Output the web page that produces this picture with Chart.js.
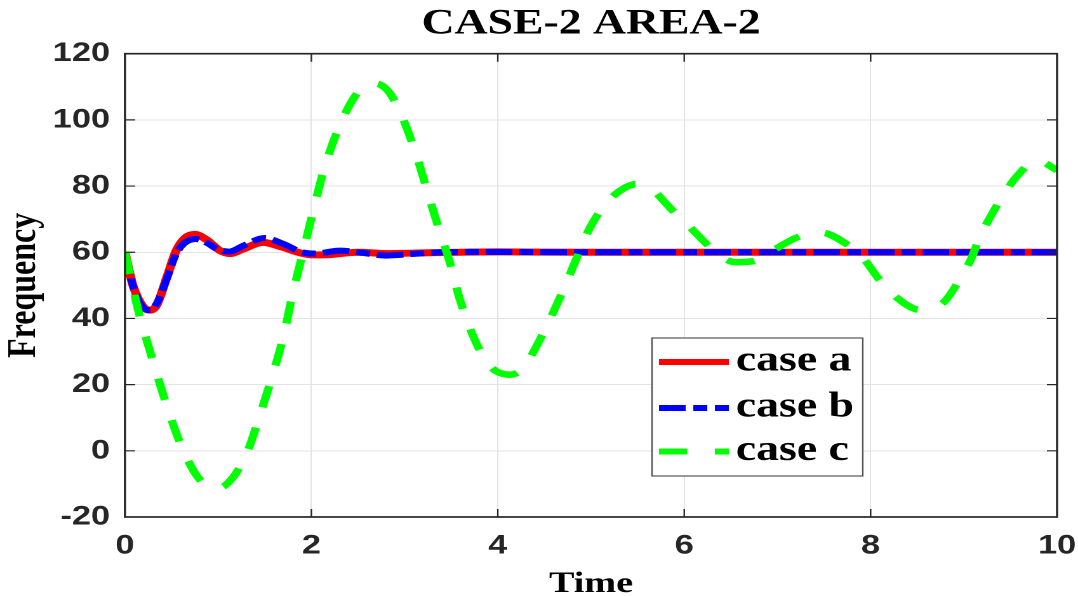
<!DOCTYPE html>
<html>
<head>
<meta charset="utf-8">
<script src="https://cdn.jsdelivr.net/npm/chart.js@4.4.1/dist/chart.umd.min.js"></script>
<style>
  html, body { margin: 0; padding: 0; background: #ffffff; overflow: hidden; }
  #wrap { width: 849px; height: 596px; transform: scaleX(1.26973); transform-origin: 0 0; }
</style>
</head>
<body>
<div id="wrap"><canvas id="c" width="849" height="596"></canvas></div>
<script>
// ---- data ----
const titleText = 'CASE-2 AREA-2';
const xTitle = 'Time';
const yTitle = 'Frequency';
const seriesLabels = ['case a', 'case b', 'case c'];

const timeA = [0, 0.09, 0.2, 0.27, 0.34, 0.45, 0.55, 0.64, 0.75, 0.88, 1.02, 1.13, 1.27, 1.48, 1.66, 1.88, 2.02, 2.2, 2.5, 2.8, 3.2, 3.6, 4, 5, 6, 7, 8, 9, 10];
const caseA = [60, 49.6, 43.4, 42.5, 44, 52.5, 60.5, 64.2, 65.4, 63.7, 60.5, 59.6, 61, 63, 61.8, 59.8, 59.2, 59.3, 60, 59.6, 59.8, 60, 60.1, 60, 60, 60, 60, 60, 60];

const timeB = [0, 0.09, 0.2, 0.27, 0.34, 0.45, 0.55, 0.64, 0.76, 0.88, 1.0, 1.12, 1.27, 1.5, 1.7, 1.9, 2.05, 2.3, 2.55, 2.8, 3.1, 3.4, 3.8, 5, 6, 7, 8, 9, 10];
const caseB = [60, 49.5, 43.1, 42.5, 44.5, 52, 59.5, 62.8, 64, 62.8, 60.8, 60.2, 62, 64.3, 62.5, 60, 59.6, 60.5, 59.8, 59.0, 59.5, 60, 60.1, 60, 60, 60, 60, 60, 60];

const timeC = [0, 0.16, 0.27, 0.41, 0.59, 0.77, 0.91, 1.0, 1.16, 1.31, 1.45, 1.59, 1.70, 1.80, 1.91, 2.02, 2.13, 2.27, 2.42, 2.55, 2.68, 2.83, 2.98, 3.13, 3.27, 3.38, 3.49, 3.59, 3.77, 3.92, 4.13, 4.27, 4.45, 4.67, 4.85, 4.99, 5.17, 5.35, 5.49, 5.63, 5.88, 6.03, 6.24, 6.38, 6.55, 6.74, 6.92, 7.21, 7.46, 7.74, 7.92, 8.10, 8.28, 8.53, 8.78, 8.96, 9.07, 9.17, 9.28, 9.43, 9.57, 9.78, 10.0];
const caseC = [60, 40.5, 30, 17, 2.5, -7.5, -11, -11.3, -8, -0.5, 11, 23.5, 34.5, 47.5, 60, 72.5, 84.5, 96, 105, 109.8, 111, 108.5, 100.5, 89, 76, 66, 56.5, 46, 32.5, 25.5, 23, 25, 33.5, 46.5, 58.5, 67.5, 75, 79.3, 80.6, 79.5, 72.5, 68.5, 62.5, 59, 57, 57.3, 60, 64.5, 66, 62.5, 58.2, 51.5, 46.3, 42.6, 44.8, 52, 57.5, 64.5, 70.5, 77.5, 83, 87.8, 84.8];

const xTicks = [0, 2, 4, 6, 8, 10];
const yTicks = [-20, 0, 20, 40, 60, 80, 100, 120];

// ---- build ----
const pts = (ts, vs) => ts.map((t, i) => ({ x: t, y: vs[i] }));

const framePlugin = {
  id: 'frameTicks',
  afterDatasetsDraw(chart) {
    const { ctx, chartArea: a, scales: { x, y } } = chart;
    ctx.save();
    ctx.strokeStyle = '#262626';
    ctx.lineWidth = 1.2;
    const L = 8;
    ctx.beginPath();
    xTicks.forEach(v => {
      if (v === xTicks[0] || v === xTicks[xTicks.length - 1]) return;
      const px = x.getPixelForValue(v);
      ctx.moveTo(px, a.bottom); ctx.lineTo(px, a.bottom - L);
      ctx.moveTo(px, a.top); ctx.lineTo(px, a.top + L);
    });
    yTicks.forEach(v => {
      if (v === yTicks[0] || v === yTicks[yTicks.length - 1]) return;
      const py = y.getPixelForValue(v);
      ctx.moveTo(a.left, py); ctx.lineTo(a.left + L, py);
      ctx.moveTo(a.right, py); ctx.lineTo(a.right - L, py);
    });
    ctx.stroke();
    ctx.lineWidth = 1.7;
    ctx.strokeRect(a.left, a.top, a.right - a.left, a.bottom - a.top);
    ctx.restore();
  }
};

const legendPlugin = {
  id: 'boxLegend',
  afterDraw(chart) {
    const { ctx } = chart;
    const bx = 513.5, by = 338, bw = 166, bh = 138;
    ctx.save();
    ctx.fillStyle = '#ffffff';
    ctx.fillRect(bx, by, bw, bh);
    ctx.strokeStyle = '#555555';
    ctx.lineWidth = 1.2;
    ctx.strokeRect(bx, by, bw, bh);
    const rows = [362, 408, 451.5];
    chart.data.datasets.forEach((ds, i) => {
      const yy = rows[i];
      ctx.beginPath();
      ctx.strokeStyle = ds.borderColor;
      ctx.lineWidth = 6;
      ctx.lineCap = 'butt';
      ctx.setLineDash(ds.legendDash || []);
      ctx.moveTo(bx + 5.5, yy);
      ctx.lineTo(bx + 60.5, yy);
      ctx.stroke();
      ctx.setLineDash([]);
      ctx.fillStyle = '#000000';
      ctx.font = 'bold 36px "Liberation Serif", "Times New Roman", serif';
      ctx.textBaseline = 'middle';
      ctx.textAlign = 'left';
      ctx.fillText(ds.label, bx + 66, yy - 1);
    });
    ctx.restore();
  }
};

new Chart(document.getElementById('c'), {
  type: 'line',
  data: {
    datasets: [
      { label: seriesLabels[0], data: pts(timeA, caseA), borderColor: '#ff0000', borderWidth: 7,
        pointRadius: 0, cubicInterpolationMode: 'monotone', order: 3, legendDash: [] },
      { label: seriesLabels[1], data: pts(timeB, caseB), borderColor: '#0000ff', borderWidth: 6,
        borderDash: [21, 5.5, 11, 5.5], pointRadius: 0, cubicInterpolationMode: 'monotone', order: 2,
        legendDash: [21, 6, 11, 6] },
      { label: seriesLabels[2], data: pts(timeC, caseC), borderColor: '#00ff00', borderWidth: 6.5,
        borderDash: [22, 21], pointRadius: 0, cubicInterpolationMode: 'monotone', order: 1,
        legendDash: [22, 22] }
    ]
  },
  options: {
    responsive: false,
    animation: false,
    devicePixelRatio: 2,
    layout: { padding: { left: 0, right: 16.5, top: 0, bottom: 0 } },
    plugins: {
      legend: { display: false },
      tooltip: { enabled: false },
      title: {
        display: true, text: titleText, color: '#000000', fullSize: false,
        font: { family: '"Liberation Serif", "Times New Roman", serif', size: 36, weight: 'bold', lineHeight: 1.2 },
        padding: { top: 2.4, bottom: 8.1 }
      }
    },
    scales: {
      x: {
        type: 'linear', min: 0, max: 10,
        afterBuildTicks: s => { s.ticks = xTicks.map(v => ({ value: v })); },
        afterFit: s => { s.height = 79; s.paddingLeft = 0; s.paddingRight = 0; },
        grid: { color: '#e3e3e3', lineWidth: 1, drawTicks: false },
        border: { display: false },
        ticks: {
          color: '#262626', padding: 13, maxRotation: 0,
          font: { family: '"Liberation Sans", Arial, sans-serif', size: 27, weight: 'bold', lineHeight: 1.2 }
        },
        title: {
          display: true, text: xTitle, color: '#000000',
          font: { family: '"Liberation Serif", "Times New Roman", serif', size: 30, weight: 'bold', lineHeight: 0.75 },
          padding: { top: 0, bottom: 0.45 }
        }
      },
      y: {
        type: 'linear', min: -20, max: 120,
        afterBuildTicks: s => { s.ticks = yTicks.map(v => ({ value: v })); },
        afterFit: s => { s.width = 98.4; s.paddingTop = 0; s.paddingBottom = 0; },
        grid: { color: '#e3e3e3', lineWidth: 1, drawTicks: false },
        border: { display: false },
        ticks: {
          color: '#262626', padding: 11.8,
          font: { family: '"Liberation Sans", Arial, sans-serif', size: 27, weight: 'bold', lineHeight: 1.2 }
        },
        title: {
          display: true, text: yTitle, color: '#000000',
          font: { family: '"Liberation Serif", "Times New Roman", serif', size: 32, weight: 'bold', lineHeight: 1.0 },
          padding: { top: 3.2, bottom: 0 }
        }
      }
    }
  },
  plugins: [framePlugin, legendPlugin]
});
</script>
</body>
</html>
